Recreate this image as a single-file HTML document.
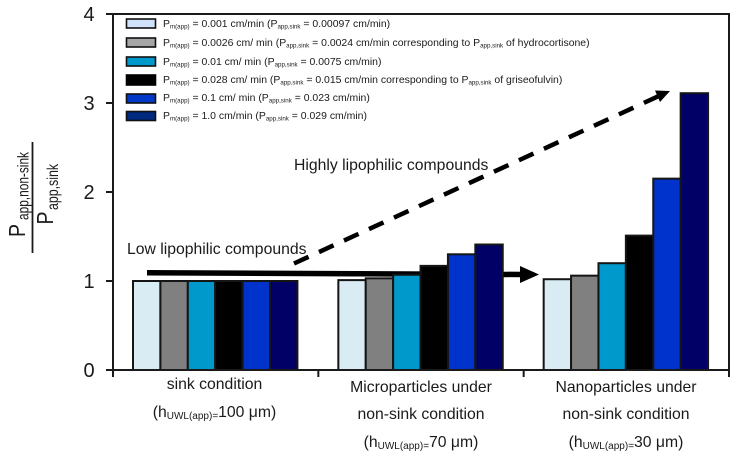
<!DOCTYPE html>
<html>
<head>
<meta charset="utf-8">
<title>Papp ratio chart</title>
<style>
html,body{margin:0;padding:0;background:#fff;}
svg{display:block;font-family:"Liberation Sans",sans-serif;filter:blur(0.3px);}
text{fill:#1a1a1a;}
.leg{font-size:10.45px;}
.cat{font-size:15.75px;text-anchor:middle;}
.note{font-size:15.75px;}
.tick{font-size:20px;text-anchor:middle;}
</style>
</head>
<body>
<svg id="chart" width="737" height="457" viewBox="0 0 737 457">
  <rect width="737" height="457" fill="#fff"></rect>
  <line x1="147" y1="272.7" x2="522" y2="274.5" stroke="#000" stroke-width="5.5"></line>
  <g id="bars"></g>
  <g id="axes">
    <rect x="113" y="14" width="616" height="356" fill="none" stroke="#1a1a1a" stroke-width="2"></rect>
  </g>

  <g>
    <text transform="translate(25,237) rotate(-90)" font-size="23" textLength="13" lengthAdjust="spacingAndGlyphs">P</text>
    <text transform="translate(28.5,220) rotate(-90)" font-size="15.5" textLength="68" lengthAdjust="spacingAndGlyphs">app,non-sink</text>
    <line x1="32.5" y1="142" x2="32.5" y2="253" stroke="#1a1a1a" stroke-width="1.8"></line>
    <text transform="translate(53,224.5) rotate(-90)" font-size="23" textLength="13" lengthAdjust="spacingAndGlyphs">P</text>
    <text transform="translate(58,210) rotate(-90)" font-size="15.5" textLength="46" lengthAdjust="spacingAndGlyphs">app,sink</text>
  </g>

  <g>
    <g>
      <rect x="126.5" y="19" width="29" height="9" fill="#cfe2fa" stroke="#111" stroke-width="1.6"></rect>
      <text class="leg" x="163" y="27">P<tspan font-size="6.2" dy="1.5">m(app)</tspan><tspan dy="-1.5"> = 0.001 cm/min (P</tspan><tspan font-size="6.2" dy="1.5">app,sink</tspan><tspan dy="-1.5"> = 0.00097 cm/min)</tspan></text>
    </g>
    <g>
      <rect x="126.5" y="38" width="29" height="9" fill="#a6a6a6" stroke="#111" stroke-width="1.6"></rect>
      <text class="leg" x="163" y="46">P<tspan font-size="6.2" dy="1.5">m(app)</tspan><tspan dy="-1.5"> = 0.0026 cm/ min (P</tspan><tspan font-size="6.2" dy="1.5">app,sink</tspan><tspan dy="-1.5"> = 0.0024 cm/min corresponding to P</tspan><tspan font-size="6.2" dy="1.5">app,sink</tspan><tspan dy="-1.5"> of hydrocortisone)</tspan></text>
    </g>
    <g>
      <rect x="126.5" y="57" width="29" height="9" fill="#0099cc" stroke="#111" stroke-width="1.6"></rect>
      <text class="leg" x="163" y="65">P<tspan font-size="6.2" dy="1.5">m(app)</tspan><tspan dy="-1.5"> = 0.01 cm/ min (P</tspan><tspan font-size="6.2" dy="1.5">app,sink</tspan><tspan dy="-1.5"> = 0.0075 cm/min)</tspan></text>
    </g>
    <g>
      <rect x="126.5" y="75" width="29" height="10" fill="#000" stroke="#000" stroke-width="1.6"></rect>
      <text class="leg" x="163" y="83">P<tspan font-size="6.2" dy="1.5">m(app)</tspan><tspan dy="-1.5"> = 0.028 cm/ min (P</tspan><tspan font-size="6.2" dy="1.5">app,sink</tspan><tspan dy="-1.5"> = 0.015 cm/min corresponding to P</tspan><tspan font-size="6.2" dy="1.5">app,sink</tspan><tspan dy="-1.5"> of griseofulvin)</tspan></text>
    </g>
    <g>
      <rect x="126.5" y="94" width="29" height="9" fill="#0038c8" stroke="#111" stroke-width="1.6"></rect>
      <text class="leg" x="163" y="101">P<tspan font-size="6.2" dy="1.5">m(app)</tspan><tspan dy="-1.5"> = 0.1 cm/ min (P</tspan><tspan font-size="6.2" dy="1.5">app,sink</tspan><tspan dy="-1.5"> = 0.023 cm/min)</tspan></text>
    </g>
    <g>
      <rect x="126.5" y="111.5" width="29" height="9" fill="#002a80" stroke="#111" stroke-width="1.6"></rect>
      <text class="leg" x="163" y="119">P<tspan font-size="6.2" dy="1.5">m(app)</tspan><tspan dy="-1.5"> = 1.0 cm/min (P</tspan><tspan font-size="6.2" dy="1.5">app,sink</tspan><tspan dy="-1.5"> = 0.029 cm/min)</tspan></text>
    </g>
  </g>

  <g>
    <text class="note" x="127" y="254">Low lipophilic compounds</text>
    <text class="note" x="294" y="170">Highly lipophilic compounds</text>
    <polygon points="520,266 539,274.5 520,283" fill="#000"></polygon>
    <line x1="294" y1="263.5" x2="660" y2="95.5" stroke="#000" stroke-width="4.5" stroke-dasharray="16 11.5"></line>
    <polygon points="670,91 660,102 655,90.5" fill="#000"></polygon>
  </g>

  <g>
    <g>
      <text class="cat" x="214.5" y="389">sink condition</text>
      <text class="cat" x="214.5" y="417">(h<tspan font-size="10" dy="2">UWL(app)=</tspan><tspan dy="-2">100 μm)</tspan></text>
    </g>
    <g>
      <text class="cat" x="421" y="392">Microparticles under</text>
      <text class="cat" x="421" y="419">non-sink condition</text>
      <text class="cat" x="421" y="447">(h<tspan font-size="10" dy="2">UWL(app)=</tspan><tspan dy="-2">70 μm)</tspan></text>
    </g>
    <g>
      <text class="cat" x="626" y="392">Nanoparticles under</text>
      <text class="cat" x="626" y="419">non-sink condition</text>
      <text class="cat" x="626" y="447">(h<tspan font-size="10" dy="2">UWL(app)=</tspan><tspan dy="-2">30 μm)</tspan></text>
    </g>
  </g>
</svg>
<script>
const categories = ['sink', 'microparticles', 'nanoparticles'];
const series1 = [1.00, 1.01, 1.02];
const series2 = [1.00, 1.03, 1.06];
const series3 = [1.00, 1.07, 1.20];
const series4 = [1.00, 1.17, 1.51];
const series5 = [1.00, 1.30, 2.15];
const series6 = [1.00, 1.41, 3.11];
const yTickLabels = [0, 1, 2, 3, 4];

const allSeries = [series1, series2, series3, series4, series5, series6];
const seriesFill = ['#daecf3', '#808080', '#0099cc', '#000000', '#0033cc', '#000066'];

const NS = 'http://www.w3.org/2000/svg';
const plot = { left: 113, right: 729, top: 14, bottom: 370, yMax: 4 };
const groupWidth = (plot.right - plot.left) / categories.length;
const barWidth = 27.4;
const groupPad = 20;

function yScale(v) {
  return plot.bottom - (v / plot.yMax) * (plot.bottom - plot.top);
}
function xGroup(i) {
  return plot.left + i * groupWidth;
}
function xBar(g, s) {
  return xGroup(g) + groupPad + s * barWidth;
}

const barsLayer = document.getElementById('bars');
const axesLayer = document.getElementById('axes');

allSeries.forEach(function (values, s) {
  values.forEach(function (v, g) {
    const r = document.createElementNS(NS, 'rect');
    r.setAttribute('x', xBar(g, s));
    r.setAttribute('y', yScale(v));
    r.setAttribute('width', barWidth);
    r.setAttribute('height', yScale(0) - yScale(v));
    r.setAttribute('fill', seriesFill[s]);
    r.setAttribute('stroke', '#151515');
    r.setAttribute('stroke-width', '2');
    
    
    barsLayer.appendChild(r);
  });
});

yTickLabels.forEach(function (t) {
  const y = yScale(t);
  const l = document.createElementNS(NS, 'line');
  l.setAttribute('x1', 106);
  l.setAttribute('x2', plot.left);
  l.setAttribute('y1', y);
  l.setAttribute('y2', y);
  l.setAttribute('stroke', '#1a1a1a');
  l.setAttribute('stroke-width', '2');
  
  
  axesLayer.appendChild(l);
  const txt = document.createElementNS(NS, 'text');
  txt.setAttribute('class', 'tick');
  txt.setAttribute('x', 89);
  txt.setAttribute('y', y + 7);
  txt.textContent = t;
  
  
  axesLayer.appendChild(txt);
});

for (let i = 0; i <= categories.length; i++) {
  const x = xGroup(i);
  const l = document.createElementNS(NS, 'line');
  l.setAttribute('x1', x);
  l.setAttribute('x2', x);
  l.setAttribute('y1', plot.bottom);
  l.setAttribute('y2', plot.bottom + 7);
  l.setAttribute('stroke', '#1a1a1a');
  l.setAttribute('stroke-width', '2');
  
  
  axesLayer.appendChild(l);
}
</script>
</body>
</html>
